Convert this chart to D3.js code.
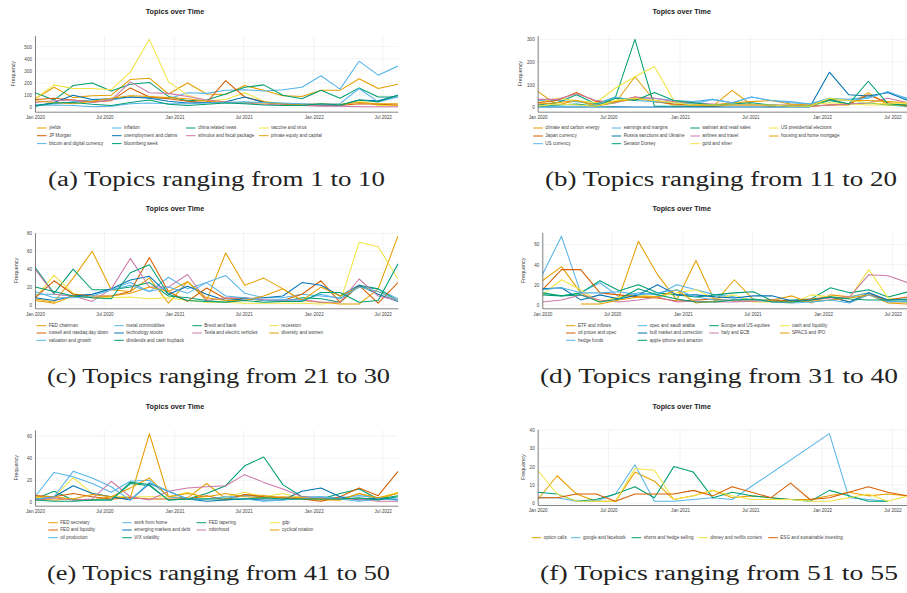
<!DOCTYPE html>
<html>
<head>
<meta charset="utf-8">
<script src="https://cdn.jsdelivr.net/npm/d3@7"></script>
<style>
  body { margin: 0; background: #fff; }
  svg { display: block; }
</style>
</head>
<body>
<div id="my-chart"></div>
<script>

// time bins shared by every panel
var binDates = ["2020-01-01", "2020-02-20", "2020-04-10", "2020-05-30", "2020-07-19",
  "2020-09-07", "2020-10-27", "2020-12-16", "2021-02-04", "2021-03-26",
  "2021-05-15", "2021-07-04", "2021-08-23", "2021-10-12", "2021-12-01",
  "2022-01-20", "2022-03-11", "2022-04-30", "2022-06-19", "2022-08-10"];

var xTickDates = ["2020-01-01", "2020-07-01", "2021-01-01", "2021-07-01", "2022-01-01", "2022-07-01"];
var xTickLabels = ["Jan 2020", "Jul 2020", "Jan 2021", "Jul 2021", "Jan 2022", "Jul 2022"];

var captions = ["(a) Topics ranging from 1 to 10", "(b) Topics ranging from 11 to 20",
  "(c) Topics ranging from 21 to 30", "(d) Topics ranging from 31 to 40",
  "(e) Topics ranging from 41 to 50", "(f) Topics ranging from 51 to 55"];

// panel (a)
var namesA = ["yields", "inflation", "china related news", "vaccine and virus", "JP Morgan",
  "unemployment and claims", "stimulus and fiscal package", "private equity and capital",
  "bitcoin and digital currency", "bloomberg week"];
var freqA = [
  [70, 165, 80, 95, 100, 230, 240, 110, 200, 110, 105, 180, 140, 95, 90, 140, 140, 235, 155, 190],
  [20, 30, 45, 60, 60, 85, 80, 70, 120, 115, 140, 145, 135, 145, 165, 260, 150, 380, 265, 340],
  [120, 60, 180, 200, 135, 190, 205, 90, 55, 60, 110, 165, 185, 100, 70, 140, 75, 160, 85, 85],
  [70, 185, 155, 155, 145, 290, 560, 210, 100, 55, 65, 120, 50, 30, 20, 25, 20, 55, 15, 15],
  [65, 75, 60, 45, 55, 160, 85, 70, 50, 40, 220, 85, 45, 25, 15, 20, 15, 30, 25, 20],
  [10, 40, 100, 65, 70, 85, 75, 50, 35, 40, 45, 85, 40, 30, 25, 20, 15, 60, 55, 100],
  [40, 55, 60, 40, 60, 210, 120, 115, 90, 60, 45, 35, 25, 20, 15, 10, 10, 5, 5, 5],
  [55, 40, 30, 50, 75, 95, 90, 80, 70, 50, 40, 40, 35, 30, 25, 30, 25, 40, 30, 30],
  [15, 20, 15, 5, 10, 30, 35, 30, 30, 35, 40, 45, 40, 35, 30, 25, 30, 155, 45, 85],
  [10, 35, 40, 25, 15, 40, 60, 25, 15, 25, 35, 30, 20, 15, 15, 30, 20, 60, 45, 100]];
var yTicksA = [0, 100, 200, 300, 400, 500];

// panel (b)
var namesB = ["climate and carbon energy", "earnings and margins", "walmart and retail sales",
  "US presidential elections", "Japan currency", "Russia sanctions and Ukraine",
  "airlines and travel", "housing and home mortgage", "US currency", "Senator Dorsey",
  "gold and silver"];
var freqB = [
  [70, 10, 30, 5, 20, 135, 30, 10, 10, 5, 75, 10, 5, 10, 5, 10, 10, 65, 10, 15],
  [30, 30, 25, 15, 20, 40, 40, 30, 25, 35, 20, 45, 30, 25, 15, 40, 35, 45, 65, 40],
  [10, 20, 55, 15, 45, 300, 5, 5, 5, 5, 10, 10, 10, 5, 5, 30, 15, 20, 10, 5],
  [20, 40, 30, 20, 85, 135, 180, 30, 15, 10, 10, 10, 10, 10, 10, 20, 15, 10, 10, 10],
  [20, 30, 65, 25, 25, 45, 25, 15, 10, 5, 10, 10, 10, 5, 5, 10, 15, 55, 20, 5],
  [2, 1, 1, 1, 2, 1, 1, 1, 1, 1, 1, 1, 1, 1, 2, 155, 55, 50, 65, 30],
  [35, 35, 60, 30, 20, 45, 40, 25, 20, 15, 10, 10, 10, 10, 5, 10, 15, 20, 40, 20],
  [15, 20, 30, 10, 25, 35, 30, 20, 15, 10, 20, 25, 30, 15, 10, 35, 30, 30, 25, 20],
  [5, 5, 5, 10, 45, 30, 25, 20, 15, 35, 20, 45, 30, 20, 15, 40, 30, 40, 70, 35],
  [5, 10, 15, 5, 40, 30, 65, 30, 20, 10, 15, 20, 10, 5, 5, 35, 15, 115, 15, 10],
  [5, 15, 10, 5, 30, 40, 30, 20, 10, 10, 10, 10, 10, 5, 5, 40, 30, 20, 15, 20]];
var yTicksB = [0, 100, 200, 300];

// panel (c)
var namesC = ["FED chairman", "metal commodities", "Brexit and bank", "recession",
  "russell and nasdaq day down", "technology stocks", "Tesla and electric vehicles",
  "diversity and women", "valuation and growth", "dividends and cash buyback"];
var freqC = [
  [7, 3, 30, 60, 17, 15, 30, 2, 26, 5, 58, 22, 30, 18, 5, 3, 1, 1, 18, 77],
  [12, 12, 10, 12, 18, 25, 15, 31, 18, 25, 33, 13, 8, 8, 12, 10, 8, 20, 18, 7],
  [42, 13, 40, 17, 17, 20, 25, 10, 8, 5, 3, 8, 5, 4, 8, 7, 3, 22, 18, 5],
  [8, 33, 13, 8, 8, 9, 7, 8, 5, 3, 3, 2, 2, 2, 2, 1, 3, 70, 65, 29],
  [8, 27, 12, 10, 10, 15, 53, 15, 4, 19, 7, 7, 5, 5, 12, 27, 3, 22, 2, 25],
  [8, 5, 10, 12, 18, 28, 32, 12, 21, 12, 5, 7, 8, 10, 25, 22, 10, 22, 12, 4],
  [40, 12, 10, 4, 18, 52, 20, 20, 34, 5, 8, 8, 6, 5, 6, 3, 3, 29, 10, 5],
  [5, 2, 10, 8, 10, 13, 20, 15, 26, 8, 5, 5, 10, 18, 5, 20, 10, 20, 15, 5],
  [15, 8, 8, 10, 17, 22, 15, 20, 13, 25, 10, 8, 5, 6, 5, 12, 7, 20, 15, 5],
  [20, 15, 10, 8, 7, 36, 45, 12, 5, 4, 3, 5, 3, 4, 4, 14, 14, 3, 5, 46]];
var yTicksC = [0, 20, 40, 60, 80];

// panel (d)
var namesD = ["ETF and inflows", "opec and saudi arabia", "Europe and US equities",
  "cash and liquidity", "oil prices and opec", "bull market and correction", "Italy and ECB",
  "SPACS and IPO", "hedge funds", "apple iphone and amazon"];
var freqD = [
  [24, 38, 12, 3, 8, 63, 30, 5, 44, 3, 25, 5, 5, 9, 2, 10, 8, 12, 3, 3],
  [30, 68, 12, 22, 8, 12, 10, 20, 15, 10, 8, 5, 5, 4, 3, 5, 8, 12, 4, 3],
  [10, 9, 12, 24, 14, 20, 12, 10, 8, 10, 12, 13, 4, 5, 6, 17, 12, 15, 8, 13],
  [10, 25, 15, 3, 8, 10, 8, 12, 15, 6, 10, 3, 3, 2, 10, 8, 7, 35, 7, 5],
  [15, 35, 35, 12, 10, 8, 7, 4, 5, 6, 4, 4, 5, 4, 6, 8, 3, 10, 5, 8],
  [16, 17, 5, 10, 6, 10, 20, 10, 10, 8, 7, 9, 9, 4, 5, 8, 3, 12, 5, 6],
  [3, 5, 10, 5, 3, 5, 8, 3, 4, 3, 3, 4, 4, 3, 5, 7, 8, 30, 29, 22],
  [null, null, 1, 1, 5, 8, 8, 15, 2, 4, 5, 5, 4, 3, 4, 5, 7, 10, 2, 1],
  [15, 17, 12, 12, 13, 10, 12, 15, 8, 5, 5, 5, 3, 2, 3, 5, 2, 10, 3, 4],
  [12, 9, 10, 3, 6, 16, 10, 6, 3, 3, 5, 6, 3, 3, 5, 8, 6, 5, 5, 5]];
var yTicksD = [0, 20, 40, 60];

// panel (e)
var namesE = ["FED secretary", "work from home", "FED tapering", "gdp", "FED and liquidity",
  "emerging markets and debt", "robinhood", "cyclical rotation", "oil production", "VIX volatility"];
var freqE = [
  [3, 2, 3, 2, 5, 4, 62, 5, 4, 17, 3, 7, 6, 4, 3, 2, 2, 8, 2, 9],
  [5, 27, 23, 17, 9, 19, 20, 5, 3, 3, 5, 6, 5, 4, 5, 5, 4, 6, 4, 3],
  [3, 10, 2, 2, 2, 17, 15, 2, 3, 8, 15, 33, 41, 16, 5, 3, 8, 12, 3, 6],
  [4, 5, 22, 8, 5, 5, 5, 5, 9, 3, 5, 9, 5, 8, 4, 4, 3, 3, 4, 9],
  [6, 5, 8, 5, 3, 4, 3, 3, 3, 6, 2, 7, 5, 4, 3, 1, 5, 13, 6, 28],
  [2, 5, 15, 8, 5, 2, 17, 10, 3, 1, 2, 3, 2, 2, 10, 13, 5, 2, 4, 2],
  [2, 4, 2, 3, 19, 5, 2, 10, 13, 14, 15, 25, 18, 12, 5, 4, 3, 3, 1, 1],
  [5, 5, 3, 7, 5, 13, 22, 5, 8, 5, 8, 5, 4, 5, 4, 3, 2, 8, 4, 8],
  [3, 5, 28, 22, 14, 2, 18, 10, 3, 3, 5, 3, 1, 2, 3, 5, 3, 1, 3, 2],
  [2, 1, 1, 2, 2, 18, 16, 2, 3, 3, 3, 3, 4, 3, 3, 3, 3, 4, 2, 5]];
var yTicksE = [0, 20, 40, 60];

// panel (f)
var namesF = ["option calls", "google and facebook", "shorts and hedge selling",
  "disney and netflix content", "ESG and sustainable investing"];
var freqF = [
  [2, 15, 5, 1, 1, 17, 12, 2, 4, 7, 3, 4, 3, 2, 2, 4, 6, 4, 5, 4],
  [3, 3, 1, 1, 5, 21, 1, 1, 2, 3, 2, null, null, null, null, 38, 3, 2, 1, null],
  [6, 5, 1, 2, 5, 9, 3, 20, 17, 3, 6, 4, 3, 2, 1, 7, 4, 1, 1, null],
  [18, 5, 1, 1, 1, 19, 18, 2, 4, 7, 4, 2, 2, 2, 1, 1, 3, 5, 1, 4],
  [3, 3, 5, 5, 1, 5, 5, 5, 7, 4, 9, 6, 3, 11, 2, 3, 6, 9, 6, 4]];
var yTicksF = [0, 10, 20, 30, 40];

// okabe-ito palette, cycled per figure
var palette = ["#E69F00", "#56B4E9", "#009E73", "#F0E442", "#D55E00", "#0072B2", "#CC79A7"];

var parseDate = d3.timeParse("%Y-%m-%d");
var dates = binDates.map(parseDate);

// where each small figure sits on the page
var panels = [
  {names: namesA, freq: freqA, yTicks: yTicksA, x0: 35, x1: 398, yTop: 35.7, yBot: 111.7, yDom: [-36, 590],
   titleX: 175, titleY: 12.3, ylabX: 14, legX: [37, 112, 186, 259], legY: [128, 135.7, 143.6],
   capX: 48, capW: 337, capY: 186},
  {names: namesB, freq: freqB, yTicks: yTicksB, x0: 537.7, x1: 908, yTop: 35.7, yBot: 111.7, yDom: [-19.4, 316],
   titleX: 681.7, titleY: 12.3, ylabX: 520.7, legX: [533.3, 611.7, 690.3, 769], legY: [128, 136, 143.7],
   capX: 545, capW: 352, capY: 186},
  {names: namesC, freq: freqC, yTicks: yTicksC, x0: 35, x1: 398, yTop: 232.7, yBot: 308.3, yDom: [-3.7, 80.7],
   titleX: 175, titleY: 209.3, ylabX: 16.7, legX: [36.7, 114.3, 192.3, 269.3], legY: [325.7, 333, 340.3],
   capX: 47, capW: 343, capY: 383},
  {names: namesD, freq: freqD, yTicks: yTicksD, x0: 542.3, x1: 908, yTop: 232.3, yBot: 308.3, yDom: [-3.3, 72],
   titleX: 681.7, titleY: 209.3, ylabX: 523.3, legX: [566, 637.7, 709.3, 780], legY: [325.7, 333, 340.3],
   capX: 540, capW: 358, capY: 383},
  {names: namesE, freq: freqE, yTicks: yTicksE, x0: 35, x1: 398, yTop: 430, yBot: 505.7, yDom: [-3.1, 65.4],
   titleX: 175, titleY: 407.3, ylabX: 16.7, legX: [48.3, 122.3, 196.7, 270], legY: [522.7, 530, 537.7],
   capX: 47, capW: 343, capY: 580},
  {names: namesF, freq: freqF, yTicks: yTicksF, x0: 537.7, x1: 908, yTop: 429.3, yBot: 505, yDom: [-1, 40.4],
   titleX: 681.7, titleY: 407.3, ylabX: 523.3, legX: [531.7, 571, 631.7, 698.3, 768.3], legY: [537.7],
   capX: 540, capW: 358, capY: 580}
];

var svg = d3.select("#my-chart")
  .append("svg")
  .attr("width", 907)
  .attr("height", 593);

var sans = "'Liberation Sans', Arial, sans-serif";

panels.forEach(function(p, k) {

  var g = svg.append("g");

  var x = d3.scaleTime()
    .domain([dates[0], dates[dates.length - 1]])
    .range([p.x0, p.x1]);

  var y = d3.scaleLinear()
    .domain(p.yDom)
    .range([p.yBot, p.yTop]);

  // grid lines
  g.selectAll(".hgrid")
    .data(p.yTicks)
    .enter().append("line")
    .attr("x1", p.x0).attr("x2", p.x1)
    .attr("y1", function(d) { return y(d); })
    .attr("y2", function(d) { return y(d); })
    .attr("stroke", "#eeeeee")
    .attr("stroke-width", 0.7);

  g.selectAll(".vgrid")
    .data(xTickDates.map(parseDate))
    .enter().append("line")
    .attr("x1", function(d) { return x(d); })
    .attr("x2", function(d) { return x(d); })
    .attr("y1", p.yTop).attr("y2", p.yBot)
    .attr("stroke", "#eeeeee")
    .attr("stroke-width", 0.7);

  // clip the traces to the plot area
  var clipId = "clip" + k;
  svg.append("clipPath").attr("id", clipId)
    .append("rect")
    .attr("x", p.x0).attr("y", p.yTop - 2)
    .attr("width", p.x1 - p.x0).attr("height", p.yBot - p.yTop + 2);

  var line = d3.line()
    .x(function(d) { return x(d.date); })
    .y(function(d) { return y(d.value); });

  g.append("g")
    .attr("clip-path", "url(#" + clipId + ")")
    .selectAll("path")
    .data(p.freq)
    .enter().append("path")
    .attr("fill", "none")
    .attr("stroke", function(d, i) { return palette[i % 7]; })
    .attr("stroke-width", 1.05)
    .attr("stroke-linejoin", "round")
    .attr("d", function(row) {
      // missing bins are skipped, the trace joins its neighbours
      var pts = row.map(function(v, i) { return {date: dates[i], value: v}; })
        .filter(function(d) { return d.value !== null; });
      return line(pts);
    });

  // axes
  var xAxis = d3.axisBottom(x)
    .tickValues(xTickDates.map(parseDate))
    .tickFormat(function(d, i) { return xTickLabels[i]; })
    .tickSize(0)
    .tickPadding(4);
  var gx = g.append("g")
    .attr("transform", "translate(0," + p.yBot + ")")
    .call(xAxis);
  gx.select(".domain").attr("stroke", "#666").attr("stroke-width", 0.8);
  gx.selectAll("text").attr("font-family", sans).attr("font-size", 4.6).attr("fill", "#444");

  var yAxis = d3.axisLeft(y)
    .tickValues(p.yTicks)
    .tickSize(0)
    .tickPadding(3);
  var gy = g.append("g")
    .attr("transform", "translate(" + p.x0 + ",0)")
    .call(yAxis);
  gy.select(".domain").attr("stroke", "#666").attr("stroke-width", 0.8);
  gy.selectAll("text").attr("font-family", sans).attr("font-size", 4.6).attr("fill", "#444");

  // y axis title
  g.append("text")
    .attr("transform", "translate(" + p.ylabX + "," + ((p.yTop + p.yBot) / 2) + ") rotate(-90)")
    .attr("text-anchor", "middle")
    .attr("dominant-baseline", "middle")
    .attr("font-family", sans)
    .attr("font-size", 5.4)
    .attr("fill", "#444")
    .text("Frequency");

  // figure title
  g.append("text")
    .attr("x", p.titleX).attr("y", p.titleY)
    .attr("text-anchor", "middle")
    .attr("dominant-baseline", "middle")
    .attr("font-family", sans)
    .attr("font-weight", "bold")
    .attr("font-size", 7.2)
    .attr("fill", "#222")
    .text("Topics over Time");

  // legend, row-major like plotly's horizontal legend
  var perRow = p.legX.length;
  var leg = g.selectAll(".leg")
    .data(p.names)
    .enter().append("g")
    .attr("transform", function(d, i) {
      return "translate(" + p.legX[i % perRow] + "," + p.legY[Math.floor(i / perRow)] + ")";
    });
  leg.append("line")
    .attr("x1", 0).attr("x2", 9.5)
    .attr("y1", 0).attr("y2", 0)
    .attr("stroke", function(d, i) { return palette[i % 7]; })
    .attr("stroke-width", 1);
  leg.append("text")
    .attr("x", 12).attr("y", 0)
    .attr("dominant-baseline", "middle")
    .attr("font-family", sans)
    .attr("font-size", 4.6)
    .attr("fill", "#444")
    .text(function(d) { return d; });

  // latex-style subfigure caption
  svg.append("text")
    .attr("x", p.capX).attr("y", p.capY)
    .attr("font-family", "'Liberation Serif', 'DejaVu Serif', serif")
    .attr("font-size", 20.5)
    .attr("fill", "#222")
    .attr("textLength", p.capW)
    .attr("lengthAdjust", "spacingAndGlyphs")
    .text(captions[k]);
});

</script>
</body>
</html>
